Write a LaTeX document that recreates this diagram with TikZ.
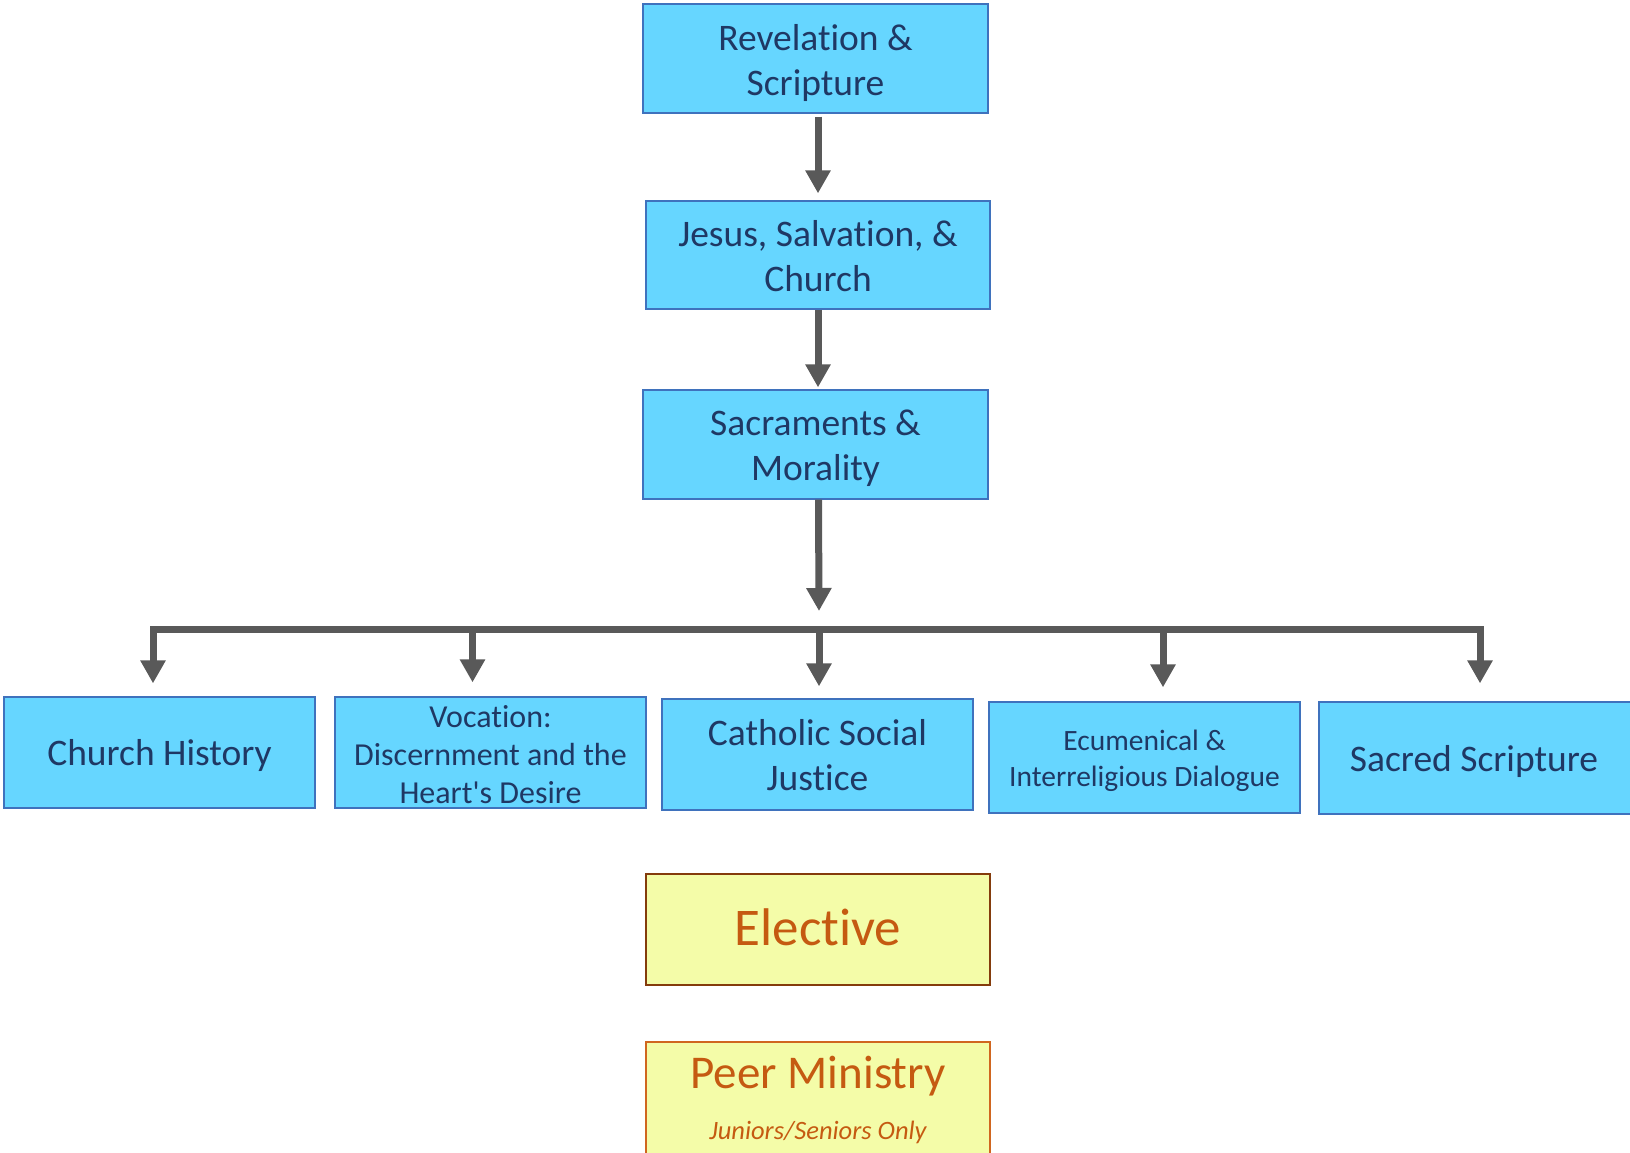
\documentclass[tikz,border=0pt]{standalone}
\usepackage{fontspec}
\setmainfont{Carlito}[Ligatures={TeX,NoCommon}]
\usetikzlibrary{arrows.meta}
\definecolor{bfill}{HTML}{66D6FF}
\definecolor{bborder}{HTML}{3F72BD}
\definecolor{btext}{HTML}{1F3864}
\definecolor{agrey}{HTML}{595959}
\definecolor{yfill}{HTML}{F4FCA8}
\definecolor{otext}{HTML}{C55A11}
\definecolor{eborder}{HTML}{843C0C}
\definecolor{pborder}{HTML}{D0661F}
\newcommand\dnsh[2]{\raisebox{-#1}[\height][\depth]{#2}}
\begin{document}
\begin{tikzpicture}[x=1pt,y=-1pt,
  bbox/.style={draw=bborder, fill=bfill, text=btext, line width=1.3pt, inner sep=0pt, align=center},
  ybox/.style={fill=yfill, text=otext, line width=2pt, inner sep=0pt, align=center},
  arr/.style={draw=agrey, line width=7pt, -{Triangle[width=24pt,length=23pt]}},
  fbig/.style={font=\fontsize{37.5}{45}\selectfont},
  topbox/.style={bbox, fbig, minimum width=345pt, minimum height=109pt},
  lowbox/.style={bbox, minimum width=311pt, minimum height=111pt}]
\useasboundingbox (0,0) rectangle (1630,1152);
\fill[white] (0,0) rectangle (1630,1152);

\node[topbox] (rev) at (815.5,58.5) {\dnsh{4pt}{Revelation \&}\\\dnsh{4pt}{Scripture}};
\node[topbox, minimum width=344pt, minimum height=108pt] (jesus) at (818,255) {\dnsh{1pt}{Jesus, Salvation, \&}\\\dnsh{1pt}{Church}};
\node[topbox] (sac) at (815.5,444.5) {\dnsh{4pt}{Sacraments \&}\\\dnsh{4pt}{Morality}};

\node[lowbox, fbig] (chist) at (159.5,752.5) {\dnsh{3pt}{Church History}};
\node[lowbox, font=\fontsize{32}{38}\selectfont] (voc) at (490.5,752.5) {\dnsh{2pt}{Vocation:}\\\dnsh{2pt}{Discernment and the}\\\dnsh{2pt}{Heart\textquotesingle s Desire}};
\node[lowbox, fbig] (csj) at (817.5,754.5) {\dnsh{1pt}{Catholic Social}\\\dnsh{1pt}{Justice}};
\node[lowbox, font=\fontsize{29.5}{36}\selectfont] (ecu) at (1144.5,757.5) {\dnsh{3pt}{Ecumenical \&}\\\dnsh{3pt}{Interreligious Dialogue}};
\node[lowbox, fbig, minimum width=331pt, minimum height=112pt] (sacs) at (1484.5,758) {\dnsh{3pt}{Sacred Scripture}\hspace*{21pt}};

\node[ybox, draw=eborder, minimum width=344pt, minimum height=111pt, font=\fontsize{53}{60}\selectfont] (elect) at (818,929.5) {\dnsh{-2pt}{Elective}};
\node[ybox, draw=pborder, minimum width=344pt, minimum height=120pt] (peer) at (818,1102) {};
\node[text=otext, anchor=base, inner sep=0pt, font=\fontsize{47}{56}\selectfont] (peerA) at (818,1088) {Peer Ministry};
\node[text=otext, anchor=base, inner sep=0pt, font=\fontsize{26.5}{30}\selectfont\itshape] (peerB) at (818,1139) {Juniors/Seniors Only};

\coordinate (hubtip) at (819,611);
\coordinate (hub) at (819,629);

\draw[arr, shorten <=3pt, shorten >=7pt] ([xshift=2.5pt]rev.south) -- (jesus.north);
\draw[arr, shorten >=2pt] (jesus.south) -- ([xshift=2.5pt]sac.north);
\draw[arr] ([xshift=3pt]sac.south) -- (hubtip);

\draw[arr, shorten >=13pt] (hub) -| ([xshift=-6.5pt]chist.north);
\draw[arr, shorten >=14pt] (hub) -| ([xshift=-18pt]voc.north);
\draw[arr, shorten >=12pt] (hub) -- ([xshift=1.5pt]csj.north);
\draw[arr, shorten >=14pt] (hub) -| ([xshift=18.5pt]ecu.north);
\draw[arr, shorten >=18pt] (hub) -| ([xshift=-4.5pt]sacs.north);
\end{tikzpicture}
\end{document}
